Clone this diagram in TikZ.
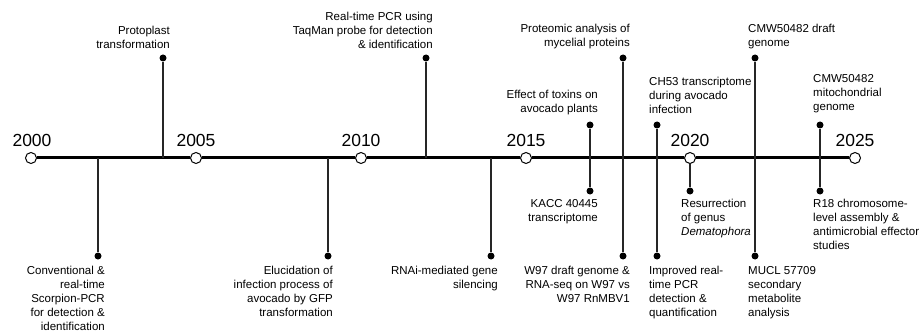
\documentclass[tikz,border=0pt]{standalone}
\usepackage{fontspec}
\setmainfont{Liberation Sans}
\usetikzlibrary{positioning}

\begin{document}
\begin{tikzpicture}[x=1pt,y=-1pt,
  yr/.style={circle,draw=black,fill=white,line width=1pt,minimum size=11pt,inner sep=0pt},
  yrlab/.style={font=\fontsize{17.5}{20}\selectfont,anchor=base,inner sep=0pt},
  evdot/.style={circle,fill=black,minimum size=7pt,inner sep=0pt},
  stem/.style={draw=black!85,line width=1.1pt},
  evtxt/.style={font=\fontsize{11.5}{14}\selectfont,inner sep=0pt}]
\useasboundingbox (0,0) rectangle (920,331);
% time axis
\node[yr] (y2000) at (31,158) {};
\node[yr] (y2005) at (196,158) {};
\node[yr] (y2010) at (361,158) {};
\node[yr] (y2015) at (526,158) {};
\node[yr] (y2020) at (690,158) {};
\node[yr] (y2025) at (855,158) {};
\draw[line width=3pt] (y2000) -- (y2005) -- (y2010) -- (y2015) -- (y2020) -- (y2025);
\node[yrlab] (l2000) at (32,147) {2000};
\node[yrlab] (l2005) at (196,147) {2005};
\node[yrlab] (l2010) at (361,147) {2010};
\node[yrlab] (l2015) at (526,147) {2015};
\node[yrlab] (l2020) at (690,147) {2020};
\node[yrlab] (l2025) at (855,147) {2025};
% events above
\coordinate (a1) at (163,158);
\node[evdot] (d1) at (163,58) {};
\node[evtxt,anchor=south east,align=right] (t1) at (170,49) {Protoplast\\transformation};
\coordinate (a2) at (426,158);
\node[evdot] (d2) at (426,58) {};
\node[evtxt,anchor=south east,align=right] (t2) at (433,49) {Real-time PCR using\\TaqMan probe for detection\\\& identification};
\coordinate (a3) at (590,158);
\node[evdot] (d3) at (590,125) {};
\node[evtxt,anchor=south east,align=right] (t3) at (598,115) {Effect of toxins on\\avocado plants};
\coordinate (a4) at (623,158);
\node[evdot] (d4) at (623,58) {};
\node[evtxt,anchor=south east,align=right] (t4) at (630,49) {Proteomic analysis of\\mycelial proteins};
\coordinate (a5) at (657,158);
\node[evdot] (d5) at (657,125) {};
\node[evtxt,anchor=south west,align=left] (t5) at (649,114) {CH53 transcriptome\\during avocado\\infection};
\coordinate (a6) at (755,158);
\node[evdot] (d6) at (755,58) {};
\node[evtxt,anchor=south west,align=left] (t6) at (748,49) {CMW50482 draft\\genome};
\coordinate (a7) at (820,158);
\node[evdot] (d7) at (820,125) {};
\node[evtxt,anchor=south west,align=left] (t7) at (813,113) {CMW50482\\mitochondrial\\genome};
% events below
\coordinate (b1) at (98,158);
\node[evdot] (e1) at (98,256) {};
\node[evtxt,anchor=north east,align=right] (s1) at (105,266) {Conventional \&\\real-time\\Scorpion-PCR\\for detection \&\\identification};
\coordinate (b2) at (328,158);
\node[evdot] (e2) at (328,256) {};
\node[evtxt,anchor=north east,align=right] (s2) at (333,266) {Elucidation of\\infection process of\\avocado by GFP\\transformation};
\coordinate (b3) at (491,158);
\node[evdot] (e3) at (491,256) {};
\node[evtxt,anchor=north east,align=right] (s3) at (498,266) {RNAi-mediated gene\\silencing};
\coordinate (b4) at (590,158);
\node[evdot] (e4) at (590,191) {};
\node[evtxt,anchor=north east,align=right] (s4) at (598,199) {KACC 40445\\transcriptome};
\coordinate (b5) at (623,158);
\node[evdot] (e5) at (623,256) {};
\node[evtxt,anchor=north east,align=right] (s5) at (630,266) {W97 draft genome \&\\RNA-seq on W97 vs\\W97 RnMBV1};
\coordinate (b6) at (657,158);
\node[evdot] (e6) at (657,256) {};
\node[evtxt,anchor=north west,align=left] (s6) at (649,266) {Improved real-\\time PCR\\detection \&\\quantification};
\node[evdot] (e7) at (690,191) {};
\node[evtxt,anchor=north west,align=left] (s7) at (681,199) {Resurrection\\of genus\\\textit{Dematophora}};
\coordinate (b8) at (755,158);
\node[evdot] (e8) at (755,256) {};
\node[evtxt,anchor=north west,align=left] (s8) at (748,266) {MUCL 57709\\secondary\\metabolite\\analysis};
\coordinate (b9) at (820,158);
\node[evdot] (e9) at (820,191) {};
\node[evtxt,anchor=north west,align=left] (s9) at (813,199) {R18 chromosome-\\level assembly \&\\antimicrobial effector\\studies};
% stems
\draw[stem] (a1) -- (d1);
\draw[stem] (a2) -- (d2);
\draw[stem] (a3) -- (d3);
\draw[stem] (a4) -- (d4);
\draw[stem] (a5) -- (d5);
\draw[stem] (a6) -- (d6);
\draw[stem] (a7) -- (d7);
\draw[stem] (b1) -- (e1);
\draw[stem] (b2) -- (e2);
\draw[stem] (b3) -- (e3);
\draw[stem] (b4) -- (e4);
\draw[stem] (b5) -- (e5);
\draw[stem] (b6) -- (e6);
\draw[stem] (y2020) -- (e7);
\draw[stem] (b8) -- (e8);
\draw[stem] (b9) -- (e9);
\end{tikzpicture}
\end{document}
